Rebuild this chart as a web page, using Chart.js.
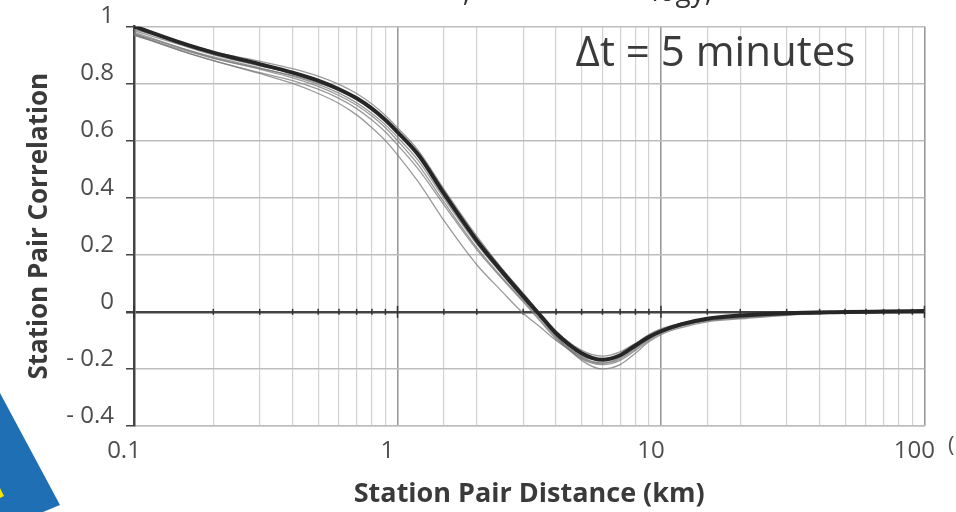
<!DOCTYPE html>
<html>
<head>
<meta charset="utf-8">
<script src="https://cdn.jsdelivr.net/npm/chart.js@4/dist/chart.umd.min.js"></script>
<style>
    body { margin: 0; background: #fff; }
    #wrap { width: 956px; height: 512px; position: relative; }
</style>
</head>
<body>
<div id="wrap"><canvas id="myChart"></canvas></div>
<script>
// distance (km) - common x points for all curves
const distance = [0.1, 0.15, 0.2, 0.3, 0.4, 0.5, 0.6, 0.7, 0.8, 0.9, 1, 1.2, 1.5, 2, 2.5, 3, 3.5, 4, 5, 6, 7, 8, 9, 10, 12, 15, 20, 30, 50, 70, 100];

// thick dark curve (mean)
const corrMean = [1.0, 0.943, 0.908, 0.868, 0.838, 0.81, 0.78, 0.748, 0.712, 0.672, 0.63, 0.55, 0.415, 0.25, 0.14, 0.055, -0.015, -0.075, -0.145, -0.168, -0.152, -0.118, -0.088, -0.068, -0.043, -0.024, -0.013, -0.005, -0.001, 0.001, 0.003];

// thin grey curves (individual station sets)
const corrA = [0.975, 0.915, 0.88, 0.835, 0.80, 0.765, 0.73, 0.69, 0.645, 0.60, 0.55, 0.455, 0.32, 0.165, 0.07, -0.005, -0.055, -0.10, -0.155, -0.17, -0.155, -0.12, -0.09, -0.07, -0.046, -0.028, -0.016, -0.007, -0.002, 0.0, 0.002];
const corrB = [0.98, 0.925, 0.89, 0.85, 0.82, 0.79, 0.758, 0.724, 0.686, 0.645, 0.60, 0.515, 0.385, 0.225, 0.12, 0.04, -0.03, -0.09, -0.165, -0.185, -0.17, -0.135, -0.1, -0.075, -0.05, -0.03, -0.018, -0.008, -0.003, 0.0, 0.002];
const corrC = [0.99, 0.945, 0.912, 0.878, 0.852, 0.826, 0.797, 0.765, 0.728, 0.688, 0.645, 0.565, 0.43, 0.265, 0.15, 0.065, -0.008, -0.068, -0.135, -0.155, -0.14, -0.11, -0.08, -0.06, -0.04, -0.022, -0.012, -0.004, 0.0, 0.002, 0.004];
const corrD = [0.97, 0.92, 0.888, 0.852, 0.828, 0.802, 0.775, 0.745, 0.71, 0.672, 0.632, 0.552, 0.42, 0.255, 0.142, 0.055, -0.018, -0.085, -0.17, -0.2, -0.185, -0.145, -0.105, -0.08, -0.055, -0.035, -0.025, -0.012, -0.004, -0.001, 0.001];
const corrE = [0.985, 0.935, 0.9, 0.862, 0.836, 0.81, 0.782, 0.75, 0.714, 0.672, 0.628, 0.545, 0.41, 0.245, 0.132, 0.045, -0.022, -0.085, -0.158, -0.18, -0.165, -0.13, -0.095, -0.07, -0.045, -0.028, -0.02, -0.01, -0.003, 0.0, 0.002];
const corrF = [0.975, 0.925, 0.893, 0.855, 0.826, 0.797, 0.766, 0.732, 0.695, 0.655, 0.612, 0.53, 0.398, 0.237, 0.13, 0.048, -0.018, -0.078, -0.148, -0.165, -0.15, -0.12, -0.09, -0.07, -0.048, -0.032, -0.022, -0.011, -0.004, -0.001, 0.001];
const corrG = [0.97, 0.915, 0.88, 0.838, 0.81, 0.78, 0.748, 0.712, 0.672, 0.63, 0.585, 0.5, 0.375, 0.218, 0.115, 0.035, -0.035, -0.095, -0.162, -0.18, -0.16, -0.125, -0.092, -0.07, -0.046, -0.03, -0.02, -0.009, -0.003, 0.0, 0.002];

const greyCurves = [corrA, corrB, corrC, corrD, corrE, corrF, corrG];
const xTickLabels = [0.1, 1, 10, 100];

const FONT = "'Open Sans', Lato, 'DejaVu Sans', sans-serif";

function pts(ys) {
    return distance.map((d, i) => ({ x: d, y: ys[i] }));
}

function isDecade(v) {
    const l = Math.log10(v);
    return Math.abs(l - Math.round(l)) < 1e-6;
}

const datasets = [{
    label: 'mean',
    data: pts(corrMean),
    borderColor: '#262626',
    borderWidth: 4,
    pointRadius: 0,
    cubicInterpolationMode: 'monotone',
}];
greyCurves.forEach((c, i) => {
    datasets.push({
        label: 'set ' + (i + 1),
        data: pts(c),
        borderColor: 'rgba(120,120,120,0.75)',
        borderWidth: 1.3,
        pointRadius: 0,
        cubicInterpolationMode: 'monotone',
    });
});

// extra drawing: annotation, small ticks on zero line, cropped bits of the page
const extras = {
    id: 'extras',
    beforeDraw(chart) {
        const ctx = chart.ctx;
        ctx.save();
        ctx.fillStyle = '#fff';
        ctx.fillRect(0, 0, chart.width, chart.height);
        ctx.restore();
    },
    beforeDatasetsDraw(chart) {
        const ctx = chart.ctx;
        const xs = chart.scales.x, ys = chart.scales.y;
        const y0 = ys.getPixelForValue(0);
        ctx.save();
        ctx.strokeStyle = '#333';
        ctx.lineWidth = 1.5;
        xs.ticks.forEach(t => {
            const px = xs.getPixelForValue(t.value);
            const h = isDecade(t.value) ? 6 : 3;
            ctx.beginPath();
            ctx.moveTo(px, y0 - h);
            ctx.lineTo(px, y0 + h);
            ctx.stroke();
        });
        ctx.restore();
    },
    afterDraw(chart) {
        const ctx = chart.ctx;
        const area = chart.chartArea;
        ctx.save();
        // delta t label
        ctx.fillStyle = '#3a3a3a';
        ctx.font = '42px ' + FONT;
        ctx.textAlign = 'center';
        ctx.textBaseline = 'middle';
        ctx.fillText('\u0394t = 5 minutes', area.right - 209, area.top + 28);

        // bottom of caption text cut off at the top edge
        ctx.font = '28px ' + FONT;
        ctx.fillStyle = '#333';
        ctx.textAlign = 'right';
        ctx.textBaseline = 'alphabetic';
        ctx.fillText('logy,', 712, 1);
        ctx.fillText(',', 470, 1);

        // cut off bracket on the right
        ctx.textAlign = 'left';
        ctx.fillStyle = '#555';
        ctx.font = '22px ' + FONT;
        ctx.fillText('(', 948, 452);

        // blue corner shape (bottom left)
        ctx.fillStyle = '#1f6fb5';
        ctx.beginPath();
        ctx.moveTo(0, 393);
        ctx.lineTo(60, 505);
        ctx.lineTo(43, 512);
        ctx.lineTo(0, 512);
        ctx.closePath();
        ctx.fill();
        ctx.fillStyle = '#f2e600';
        ctx.beginPath();
        ctx.moveTo(0, 488);
        ctx.lineTo(4, 496);
        ctx.lineTo(0, 498);
        ctx.closePath();
        ctx.fill();
        ctx.restore();
    }
};

const config = {
    type: 'line',
    data: { datasets: datasets },
    options: {
        responsive: true,
        maintainAspectRatio: false,
        animation: false,
        layout: {
            padding: { left: 0, right: 29, top: 26, bottom: 0 }
        },
        plugins: {
            legend: { display: false },
            tooltip: { enabled: false }
        },
        scales: {
            x: {
                type: 'logarithmic',
                min: 0.1,
                max: 100,
                afterFit(scale) { scale.height = 86; },
                border: { color: '#bdbdbd', width: 1.5 },
                grid: {
                    drawTicks: false,
                    color: ctx => isDecade(ctx.tick.value) ? '#9a9a9a' : '#d2d2d2',
                    lineWidth: ctx => isDecade(ctx.tick.value) ? 1.6 : 1.2,
                },
                ticks: {
                    autoSkip: false,
                    maxRotation: 0,
                    padding: 11,
                    labelOffset: -10,
                    color: '#4d4d4d',
                    font: { family: FONT, size: 24 },
                    callback: v => xTickLabels.some(t => Math.abs(t - v) < 1e-9) ? String(v) : ''
                },
                title: {
                    display: true,
                    text: 'Station Pair Distance (km)',
                    color: '#3a3a3a',
                    font: { family: FONT, size: 27, weight: 'bold' },
                    padding: { top: 0, bottom: 1 }
                }
            },
            y: {
                min: -0.4,
                max: 1,
                afterFit(scale) { scale.width = 134; },
                border: { color: '#444', width: 2.5 },
                grid: {
                    tickLength: 8,
                    tickColor: '#444',
                    color: ctx => Math.abs(ctx.tick.value) < 1e-9 ? '#444' : '#bdbdbd',
                    lineWidth: ctx => Math.abs(ctx.tick.value) < 1e-9 ? 2.5 : 1.5,
                },
                ticks: {
                    stepSize: 0.2,
                    padding: 12,
                    labelOffset: -10,
                    color: '#4d4d4d',
                    font: { family: FONT, size: 24 },
                    callback: v => {
                        const s = Math.abs(v) < 1e-9 ? '0' : String(parseFloat(Math.abs(v).toFixed(1)));
                        return v < -1e-9 ? '- ' + s : s;
                    }
                },
                title: {
                    display: true,
                    text: 'Station Pair Correlation',
                    color: '#3a3a3a',
                    font: { family: FONT, size: 26, weight: 'bold' },
                    padding: { top: 24, bottom: 0 }
                }
            }
        }
    },
    plugins: [extras]
};

const myChart = new Chart(document.getElementById('myChart'), config);
</script>
</body>
</html>
